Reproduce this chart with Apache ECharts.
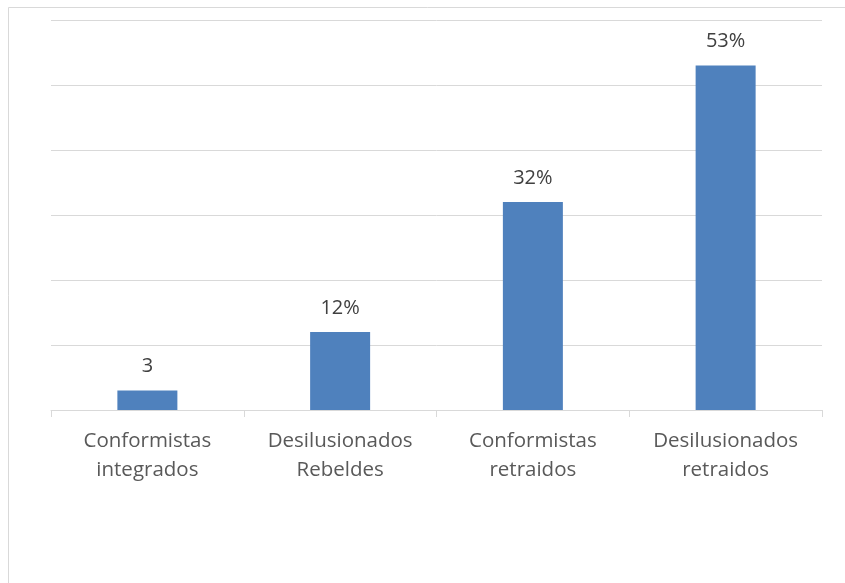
<!DOCTYPE html>
<html>
<head>
<meta charset="utf-8">
<script src="https://cdn.jsdelivr.net/npm/echarts@6/dist/echarts.min.js"></script>
<style>
html,body{margin:0;padding:0;background:#fff;}
#c{width:845px;height:583px;}
</style>
</head>
<body>
<div id="c"></div>
<script>
const categories = ['Conformistas\nintegrados', 'Desilusionados\nRebeldes', 'Conformistas\nretraidos', 'Desilusionados\nretraidos'];
const values = [3, 12, 32, 53];
const valueLabels = ['3', '12%', '32%', '53%'];

const chart = echarts.init(document.getElementById('c'), null, {renderer: 'canvas'});
chart.setOption({
  animation: false,
  backgroundColor: '#ffffff',
  graphic: [{
    type: 'rect',
    shape: {x: 8.5, y: 7.5, width: 900, height: 700},
    style: {fill: 'none', stroke: '#d9d9d9', lineWidth: 1},
    silent: true
  }],
  grid: {left: 51, right: 23, top: 20, bottom: 173, containLabel: false},
  xAxis: {
    type: 'category',
    data: categories,
    boundaryGap: true,
    axisLine: {show: true, lineStyle: {color: '#d9d9d9', width: 1}},
    axisTick: {show: true, alignWithLabel: false, length: 7, lineStyle: {color: '#d9d9d9'}},
    axisLabel: {
      color: '#595959',
      fontFamily: 'Open Sans',
      fontSize: 20.5,
      lineHeight: 29,
      margin: 17,
      interval: 0
    }
  },
  yAxis: {
    type: 'value',
    min: 0,
    max: 60,
    interval: 10,
    axisLabel: {show: false},
    axisLine: {show: false},
    axisTick: {show: false},
    splitLine: {show: true, lineStyle: {color: '#d9d9d9', width: 1}}
  },
  series: [{
    type: 'bar',
    data: values,
    barWidth: 60,
    itemStyle: {color: '#4f81bd'},
    label: {
      show: true,
      position: 'top',
      distance: 14,
      color: '#404040',
      fontFamily: 'Open Sans',
      fontSize: 20,
      formatter: function (p) { return valueLabels[p.dataIndex]; }
    }
  }]
});
</script>
</body>
</html>
